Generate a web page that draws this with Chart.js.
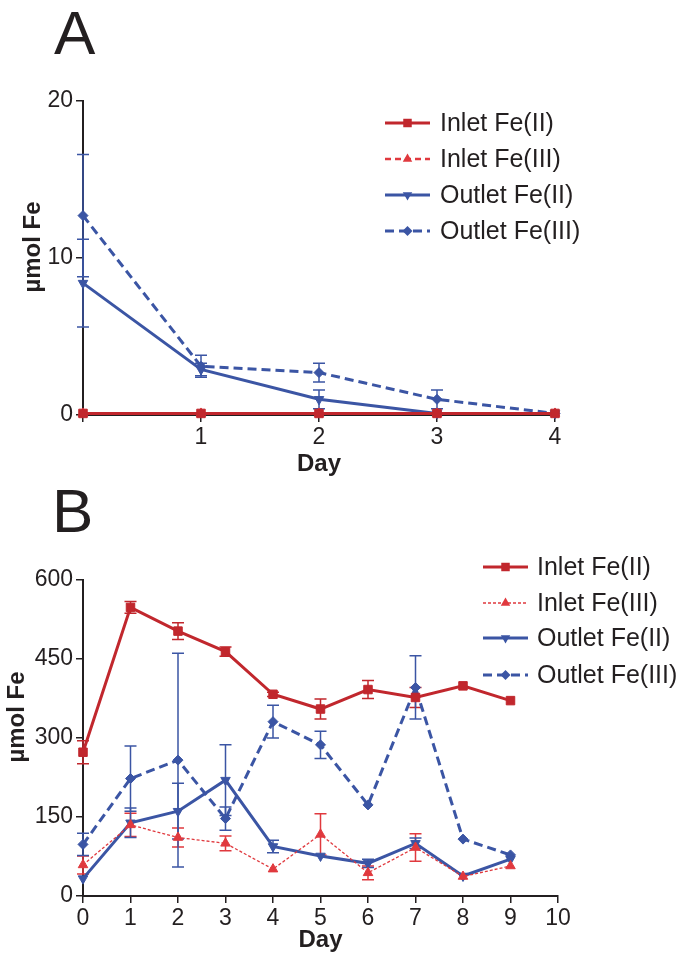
<!DOCTYPE html>
<html>
<head>
<meta charset="utf-8">
<script src="https://cdn.jsdelivr.net/npm/chart.js@4.4.1/dist/chart.umd.min.js"></script>
<style>
body { margin: 0; background: #fff; }
#wrap { position: relative; width: 680px; height: 961px; font-family: "Liberation Sans", Arial, sans-serif; color: #231f20; }
.letter { position: absolute; font-size: 62px; line-height: 1; }
canvas { position: absolute; left: 0; }
</style>
</head>
<body>
<div id="wrap">
  <div class="letter" style="left:54px; top:2px;">A</div>
  <div class="letter" style="left:52px; top:480px;">B</div>
  <canvas id="chartA" width="680" height="480" style="top:0"></canvas>
  <canvas id="chartB" width="680" height="481" style="top:480px"></canvas>
</div>
<script>
// panel A
const daysA = [0, 1, 2, 3, 4];
const inletFe2A = [0.1, 0.1, 0.1, 0.1, 0.1];
const inletFe3A = [0.1, 0.1, 0.1, 0.1, 0.1];
const outletFe2A = [8.4, 2.9, 1.0, 0.1, 0.1];
const outletFe2AErr = [2.8, 0.4, 0.6, 0, 0];
const outletFe3A = [12.7, 3.1, 2.7, 1.0, 0.1];
const outletFe3AErr = [3.9, 0.7, 0.6, 0.6, 0];
const xTicksA = [0, 1, 2, 3, 4];
const yTicksA = [0, 10, 20];

// panel B
const daysB = [0, 1, 2, 3, 4, 5, 6, 7, 8, 9];
const inletFe2B = [273, 548, 503, 464, 383, 355, 392, 377, 399, 371];
const inletFe2BErr = [22, 11, 16, 9, 4, 19, 17, 19, 0, 0];
const inletFe3B = [59, 135, 111, 100, 51, 117, 44, 92, 37, 57];
const inletFe3BErr = [17, 22, 18, 14, 0, 39, 13, 26, 0, 0];
const outletFe2B = [33, 139, 161, 220, 94, 76, 62, 100, 38, 70];
const outletFe2BErr = [0, 28, 53, 67, 12, 0, 8, 10, 0, 0];
const outletFe3B = [98, 223, 258, 147, 331, 287, 173, 396, 108, 78];
const outletFe3BErr = [21, 62, 203, 22, 31, 26, 0, 60, 0, 0];
const xTicksB = [0, 1, 2, 3, 4, 5, 6, 7, 8, 9, 10];
const yTicksB = [0, 150, 300, 450, 600];

const labels = ['Inlet Fe(II)', 'Inlet Fe(III)', 'Outlet Fe(II)', 'Outlet Fe(III)'];

const RED = '#c1272d';
const RED2 = '#e0393e';
const BLUE = '#3b55a4';
const INK = '#231f20';
const FONT = '"Liberation Sans", Arial, sans-serif';

function pts(xs, ys) {
    return xs.map((x, i) => ({ x: x, y: ys[i] }));
}

function series(label, xs, ys, errs, color, width, dash, style, rot, radius) {
    return {
        label: label,
        data: pts(xs, ys),
        errors: errs,
        borderColor: color,
        backgroundColor: color,
        borderWidth: width,
        borderDash: dash,
        pointStyle: style,
        pointRotation: rot,
        pointRadius: radius,
        pointBackgroundColor: color,
        pointBorderColor: color,
        pointBorderWidth: 1,
        tension: 0,
        clip: false
    };
}

const errorBars = {
    id: 'errorBars',
    beforeDatasetsDraw(chart) {
        const ctx = chart.ctx;
        const xs = chart.scales.x, ys = chart.scales.y;
        chart.data.datasets.forEach(ds => {
            if (!ds.errors) return;
            ctx.save();
            ctx.strokeStyle = ds.borderColor;
            ctx.lineWidth = 1.5;
            ds.data.forEach((p, i) => {
                const e = ds.errors[i];
                if (!e) return;
                const px = xs.getPixelForValue(p.x);
                const top = ys.getPixelForValue(p.y + e);
                const bot = ys.getPixelForValue(p.y - e);
                ctx.beginPath();
                ctx.moveTo(px, top); ctx.lineTo(px, bot);
                ctx.moveTo(px - 6, top); ctx.lineTo(px + 6, top);
                ctx.moveTo(px - 6, bot); ctx.lineTo(px + 6, bot);
                ctx.stroke();
            });
            ctx.restore();
        });
    }
};

const sideLegend = {
    id: 'sideLegend',
    afterDraw(chart, args, opts) {
        const ctx = chart.ctx;
        chart.data.datasets.forEach((ds, i) => {
            const y = opts.rows[i];
            ctx.save();
            ctx.strokeStyle = ds.borderColor;
            ctx.lineWidth = ds.borderWidth;
            ctx.setLineDash(ds.borderDash || []);
            ctx.beginPath();
            ctx.moveTo(opts.x0, y);
            ctx.lineTo(opts.x1, y);
            ctx.stroke();
            ctx.setLineDash([]);
            ctx.fillStyle = ds.borderColor;
            Chart.helpers.drawPoint(ctx, {
                pointStyle: ds.pointStyle,
                rotation: ds.pointRotation || 0,
                radius: ds.pointRadius,
                borderWidth: 0
            }, (opts.x0 + opts.x1) / 2, y);
            ctx.fillStyle = INK;
            ctx.font = '25px ' + FONT;
            ctx.textBaseline = 'middle';
            ctx.textAlign = 'left';
            ctx.fillText(ds.label, opts.tx, y + 1);
            ctx.restore();
        });
        // y axis title
        ctx.save();
        ctx.translate(opts.titleX, opts.titleY);
        ctx.rotate(-Math.PI / 2);
        ctx.fillStyle = INK;
        ctx.font = 'bold 24px ' + FONT;
        ctx.textAlign = 'center';
        ctx.textBaseline = 'middle';
        ctx.fillText('µmol Fe', 0, 0);
        ctx.restore();
    }
};

function axes(xTicks, yTicks, xMax, yMax, hideZero, titlePad) {
    const grid = { display: true, drawOnChartArea: false, drawTicks: true, tickLength: 7, color: INK, lineWidth: 1.5 };
    const border = { display: true, color: INK, width: 2 };
    return {
        x: {
            type: 'linear', min: 0, max: xMax,
            afterBuildTicks: s => { s.ticks = xTicks.map(v => ({ value: v })); },
            afterFit: s => { s.height = 65; },
            grid: grid, border: border,
            ticks: {
                color: INK, font: { family: FONT, size: 23 }, padding: 2, maxRotation: 0,
                callback: v => (hideZero && v === 0) ? '' : v
            },
            title: { display: true, text: 'Day', color: INK, font: { family: FONT, size: 24, weight: 'bold' }, padding: titlePad }
        },
        y: {
            type: 'linear', min: 0, max: yMax,
            afterBuildTicks: s => { s.ticks = yTicks.map(v => ({ value: v })); },
            afterFit: s => { s.width = 83; },
            grid: grid, border: border,
            ticks: { color: INK, font: { family: FONT, size: 23 }, padding: 3 }
        }
    };
}

new Chart(document.getElementById('chartA'), {
    type: 'line',
    data: {
        datasets: [
            series(labels[0], daysA, inletFe2A, null, RED, 3, [], 'rect', 0, 6),
            series(labels[1], daysA, inletFe3A, null, RED2, 2.5, [6, 4], 'triangle', 0, 5.5),
            series(labels[2], daysA, outletFe2A, outletFe2AErr, BLUE, 3, [], 'triangle', 180, 5.5),
            series(labels[3], daysA, outletFe3A, outletFe3AErr, BLUE, 3, [9, 5], 'rectRot', 0, 5)
        ]
    },
    options: {
        responsive: false,
        animation: false,
        layout: { padding: { top: 101, right: 125, left: 0, bottom: 0 } },
        scales: axes(xTicksA, yTicksA, 4, 20, true, { top: 0, bottom: 1 }),
        plugins: {
            legend: { display: false },
            tooltip: { enabled: false },
            sideLegend: { x0: 385, x1: 430, tx: 440, rows: [123, 159, 195, 231], titleX: 33, titleY: 247 }
        }
    },
    plugins: [errorBars, sideLegend]
});

new Chart(document.getElementById('chartB'), {
    type: 'line',
    data: {
        datasets: [
            series(labels[0], daysB, inletFe2B, inletFe2BErr, RED, 3, [], 'rect', 0, 6),
            series(labels[1], daysB, inletFe3B, inletFe3BErr, RED2, 1.3, [3, 2], 'triangle', 0, 5.5),
            series(labels[2], daysB, outletFe2B, outletFe2BErr, BLUE, 3, [], 'triangle', 180, 5.5),
            series(labels[3], daysB, outletFe3B, outletFe3BErr, BLUE, 3, [9, 5], 'rectRot', 0, 5)
        ]
    },
    options: {
        responsive: false,
        animation: false,
        layout: { padding: { top: 100, right: 122, left: 0, bottom: 0 } },
        scales: axes(xTicksB, yTicksB, 10, 600, false, { top: 0, bottom: 6 }),
        plugins: {
            legend: { display: false },
            tooltip: { enabled: false },
            sideLegend: { x0: 483, x1: 528, tx: 537, rows: [567, 603, 638, 675].map(v => v - 480), titleX: 17, titleY: 237 }
        }
    },
    plugins: [errorBars, sideLegend]
});
</script>
</body>
</html>
